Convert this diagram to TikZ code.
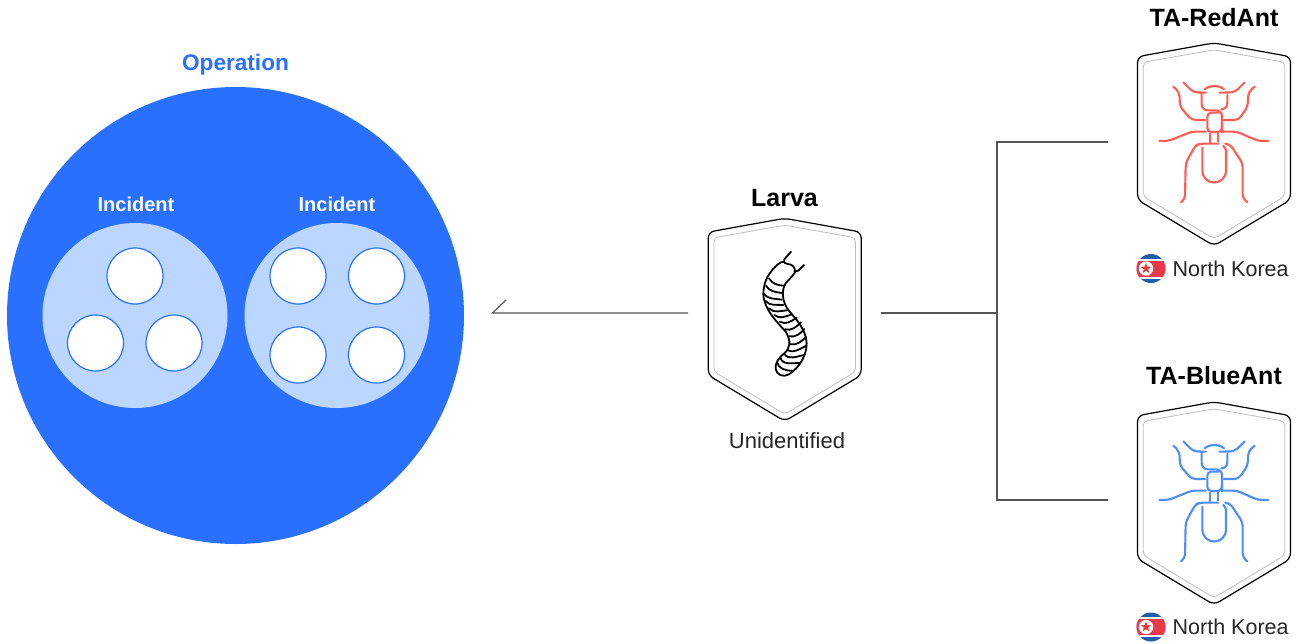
\documentclass[tikz,border=0pt]{standalone}
\usepackage{fontspec}
\setmainfont{Liberation Sans}
\definecolor{opblue}{HTML}{2A70FF}
\definecolor{incblue}{HTML}{BBD6FF}
\definecolor{antred}{HTML}{FF5B55}
\definecolor{antblue}{HTML}{4D8DF5}
\definecolor{linegray}{HTML}{555555}
\definecolor{innergray}{HTML}{BDBDBD}
\definecolor{flagred}{HTML}{E8394B}
\definecolor{flagblue}{HTML}{1F5FA8}
\usetikzlibrary{shapes.geometric}
\tikzset{
  conn/.style={draw=linegray,line width=1.2pt},
  anchorbox/.style={inner sep=0pt,outer sep=0pt,minimum height=10pt},
  title/.style={font=\fontsize{25}{25}\selectfont\bfseries,text=black,inner sep=0pt,anchor=base},
  inctext/.style={font=\fontsize{20}{20}\selectfont\bfseries,text=white,inner sep=0pt,anchor=base},
  bodytext/.style={font=\fontsize{21.5}{22}\selectfont,text=black!85,inner sep=0pt,anchor=base west},
  event/.style={circle,draw=opblue,fill=white,line width=1.2pt,minimum size=56pt,inner sep=0pt},
  incident/.style={circle,fill=incblue,minimum size=185pt,inner sep=0pt},
  shieldout/.style={draw=black,line width=1.2pt,fill=white,rounded corners=6pt},
  shieldin/.style={draw=innergray,line width=0.8pt,rounded corners=4pt},
  antline/.style={line width=2.1pt,line cap=round,line join=round,rounded corners=4pt},
  larvaline/.style={draw=black,line width=1.8pt,line cap=round,line join=round},
}
\newcommand{\shieldshape}[2]{%
 \begin{scope}[shift={(#1,#2)}]
  \path[shieldout] (0,-1.4) -- (76.5,12.4) -- (76.5,155.5) -- (0,201.5) -- (-76.5,155.5) -- (-76.5,12.4) -- cycle;
  \path[shieldin] (0,5.5) -- (70.7,18) -- (70.7,152) -- (0,194.5) -- (-70.7,152) -- (-70.7,18) -- cycle;
 \end{scope}}
\newcommand{\antshape}[3]{%
 \begin{scope}[shift={(#1,#2)},x=0.3333pt,y=-0.3333pt,every path/.style={antline,draw=#3}]
  \draw (100,22) -- (130,52) -- (168,53);
  \draw (284,22) -- (254,52) -- (208,53);
  \draw (164,43) .. controls (176,31) and (208,29) .. (222,43);
  \draw[rounded corners=6pt] (155,55) -- (155,106) -- (216,106) -- (216,172);
  \draw (216,150) -- (216,171) -- (172,171) -- (172,113) -- (205,113);
  \draw[rounded corners=6pt] (232,60) -- (232,103) -- (220,103);
  \draw (70,35) -- (88,52) -- (90,95) -- (125,135) -- (165,135);
  \draw (314,35) -- (295,52) -- (293,95) -- (265,135) -- (222,135);
  \draw (28,198) -- (55,198) -- (125,170) -- (168,170);
  \draw (355,198) -- (325,198) -- (260,170) -- (215,170);
  \draw (180,176) -- (180,205);
  \draw (204,174) -- (204,200);
  \draw (93,382) -- (105,372) -- (107,265) -- (135,213) -- (148,206) -- (205,206);
  \draw (226,206) -- (240,208) -- (278,265) -- (278,370) -- (292,382);
  \draw[rounded corners=0pt] (157,218) -- (157,285) .. controls (157,335) and (228,335) .. (228,285) -- (228,225) -- (220,212);
 \end{scope}}
\newcommand{\flagshape}[2]{%
 \begin{scope}[shift={(#1,#2)}]
  \clip (0,0) circle[radius=14.5pt];
  \fill[flagblue] (-15,-15) rectangle (15,15);
  \fill[white] (-15,-10) rectangle (15,10);
  \fill[flagred] (-15,-8) rectangle (15,8);
  \fill[white] (-5,0) circle[radius=7.2pt];
  \node[star,star points=5,star point ratio=2.4,fill=flagred,minimum size=11pt,inner sep=0pt] at (-5,0) {};
 \end{scope}}
\begin{document}
\begin{tikzpicture}[x=1pt,y=-1pt]
\useasboundingbox (0,0) rectangle (1300,643);
% operation
\node[circle,fill=opblue,minimum size=457pt,inner sep=0pt] (op) at (235.5,315.5) {};
\node[font=\fontsize{22.6}{23}\selectfont\bfseries,text=opblue,inner sep=0pt,anchor=base] (optitle) at (235.5,70) {Operation};
\node[incident] (inca) at (135,315.5) {};
\node[incident] (incb) at (337,315.5) {};
\node[inctext] (incta) at (136,211) {Incident};
\node[inctext] (inctb) at (337,211) {Incident};
\node[event] (e1) at (135,276) {};
\node[event] (e2) at (95.5,343) {};
\node[event] (e3) at (174,343) {};
\node[event] (e4) at (298,276) {};
\node[event] (e5) at (376.5,276) {};
\node[event] (e6) at (298,355) {};
\node[event] (e7) at (376.5,355) {};
% shields
\shieldshape{784.7}{219.7}
\shieldshape{1214}{44.3}
\shieldshape{1214}{403.3}
\antshape{1150}{75}{antred}
\antshape{1150}{434}{antblue}
% larva
\begin{scope}[shift={(695,215)},x=0.3333pt,y=-0.3333pt,every path/.style={larvaline}]
 \draw (250,147) .. controls (222,170) and (205,200) .. (205,238) .. controls (207,285) and (250,325) .. (272,350) .. controls (290,380) and (285,400) .. (268,415) .. controls (250,430) and (240,445) .. (242,462) .. controls (245,480) and (265,488) .. (282,478) .. controls (310,460) and (335,425) .. (335,385) .. controls (333,340) and (300,310) .. (280,285) .. controls (262,262) and (258,225) .. (272,205) .. controls (280,195) and (292,185) .. (300,172);
 \draw (250,147) .. controls (255,142) and (262,140) .. (268,140);
 \draw (288,110) -- (268,133) .. controls (266,142) and (270,148) .. (278,147) .. controls (292,147) and (302,158) .. (300,172);
 \draw (327,150) -- (310,167) -- (298,170);
 \draw (222,190) to[out=-60,in=175] (265,212);
 \draw (213,212) to[out=-60,in=170] (260,234);
 \draw (207,236) to[out=-55,in=170] (260,254);
 \draw (212,258) to[out=-50,in=175] (265,270);
 \draw (222,280) to[out=-45,in=185] (276,286);
 \draw (238,300) to[out=-40,in=200] (290,298);
 \draw (254,320) to[out=-30,in=215] (305,308);
 \draw (270,343) to[out=-15,in=225] (318,322);
 \draw (282,364) to[out=-10,in=230] (328,342);
 \draw (285,388) to[out=-10,in=220] (334,366);
 \draw (278,405) to[out=-30,in=205] (334,392);
 \draw (268,417) to[out=-55,in=190] (328,420);
 \draw (256,428) to[out=-75,in=180] (314,444);
 \draw (246,442) to[out=-75,in=175] (292,468);
\end{scope}
% labels
\node[title] (larvat) at (784.5,206) {Larva};
\node[font=\fontsize{22}{22}\selectfont,text=black!85,inner sep=0pt,anchor=base] (unid) at (787,448) {Unidentified};
\node[title] (redt) at (1214,26) {TA-RedAnt};
\node[title] (bluet) at (1214,384) {TA-BlueAnt};
\flagshape{1151}{268.5}
\flagshape{1151}{627}
\node[bodytext] (nk1) at (1172.5,276) {North Korea};
\node[bodytext] (nk2) at (1172.5,634) {North Korea};
% connectors
\node[anchorbox,minimum width=193pt] (larvabox) at (784.5,313) {};
\node[anchorbox,anchor=west] (redbox) at (1108,142) {};
\node[anchorbox,anchor=west] (bluebox) at (1108,500) {};
\coordinate (optip) at (492.5,313);
\coordinate (barb) at (506,300);
\coordinate (jn) at (997,313);
\draw[conn] (larvabox.west) -- (optip) -- (barb);
\draw[conn] (larvabox.east) -- (jn);
\draw[conn] (redbox.west) -- (jn |- redbox.west) -- (jn |- bluebox.west) -- (bluebox.west);
\end{tikzpicture}
\end{document}
